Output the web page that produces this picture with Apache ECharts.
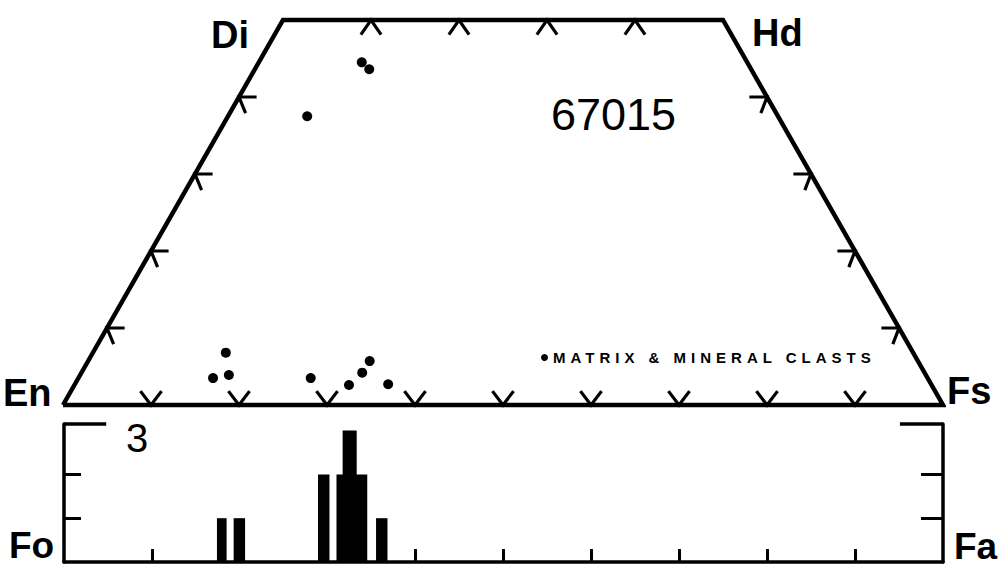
<!DOCTYPE html>
<html>
<head>
<meta charset="utf-8">
<script src="https://cdn.jsdelivr.net/npm/echarts@6/dist/echarts.min.js"></script>
<style>
  html, body { margin: 0; padding: 0; background: #fff; }
  #chart { width: 1001px; height: 566px; }
</style>
</head>
<body>
<div id="chart"></div>
<script>
// ---- Data (compositions in mol %) ----
// Quadrilateral corners: En, Di, Hd, Fs (closed)
const cornerWo = [0, 50, 50, 0, 0];
const cornerFs = [0, 0, 50, 100, 0];
// Pyroxene analyses (matrix & mineral clasts)
const pyxWo = [37.5, 44.5, 43.6, 6.8, 3.5, 3.9, 3.5, 2.6, 4.2, 5.7, 2.7];
const pyxFs = [9.0, 11.7, 13.0, 15.1, 15.3, 16.9, 26.4, 31.2, 31.9, 32.0, 35.6];
// Quadrilateral tick positions
const baseTicksFs = [10, 20, 30, 40, 50, 60, 70, 80, 90];   // En-Fs join (Wo = 0)
const topTicksFs = [10, 20, 30, 40];                        // Di-Hd join (Wo = 50)
const sideTicksWo = [10, 20, 30, 40];                       // En-Di and Hd-Fs sides
// Olivine histogram (Fa mol %): bin start, bin end, count
const olFaFrom = [17.4, 19.3, 28.9, 31.0, 31.7, 33.2, 35.5];
const olFaTo   = [18.5, 20.6, 30.2, 31.9, 33.3, 34.5, 36.8];
const olCount  = [1, 1, 2, 2, 3, 2, 1];
const histTicksFa = [10, 20, 30, 40, 50, 60, 70, 80, 90];
const histCountTicks = [1, 2];

// ---- Build ----
const HIST_TOP = 3.15;
const toX = (wo, fs) => fs + wo / 2;   // projected horizontal coordinate
const outline = cornerWo.map((w, i) => [toX(w, cornerFs[i]), w]);
const points = pyxWo.map((w, i) => [toX(w, pyxFs[i]), w]);
const ticks = [];
baseTicksFs.forEach(f => ticks.push([toX(0, f), 0, 0]));
topTicksFs.forEach(f => ticks.push([toX(50, f), 50, 1]));
sideTicksWo.forEach(w => ticks.push([toX(w, 0), w, 2]));
sideTicksWo.forEach(w => ticks.push([toX(w, 100 - w), w, 3]));
const bars = olFaFrom.map((f, i) => [f, olFaTo[i], olCount[i]]);

const BOLD = 'bold 38px "Liberation Sans", Arial, sans-serif';
function label(text, x, y, align, font) {
  return { type: 'text', silent: true, style: { text, x, y, align, verticalAlign: 'middle', font: font || BOLD, fill: '#000' } };
}

const chart = echarts.init(document.getElementById('chart'), null, { renderer: 'svg' });
chart.setOption({
  animation: false,
  backgroundColor: '#fff',
  grid: [
    { left: 63, right: 58, top: 20, bottom: 161 },
    { left: 64, right: 58, top: 424, bottom: 4 }
  ],
  xAxis: [
    { gridIndex: 0, type: 'value', min: 0, max: 100, show: false },
    { gridIndex: 1, type: 'value', min: 0, max: 100, interval: 10,
      axisLine: { show: true, lineStyle: { color: '#000', width: 3.5 } },
      axisTick: { show: true, inside: true, length: 13, customValues: histTicksFa, lineStyle: { color: '#000', width: 3 } },
      axisLabel: { show: false }, splitLine: { show: false } }
  ],
  yAxis: [
    { gridIndex: 0, type: 'value', min: 0, max: 50, show: false },
    { gridIndex: 1, type: 'value', min: 0, max: HIST_TOP, position: 'left',
      axisLine: { show: true, onZero: false, lineStyle: { color: '#000', width: 3.5 } },
      axisTick: { show: true, inside: true, length: 17, customValues: histCountTicks, lineStyle: { color: '#000', width: 3 } },
      axisLabel: { show: false }, splitLine: { show: false } },
    { gridIndex: 1, type: 'value', min: 0, max: HIST_TOP, position: 'right',
      axisLine: { show: true, onZero: false, lineStyle: { color: '#000', width: 3.5 } },
      axisTick: { show: true, inside: true, length: 22, customValues: histCountTicks, lineStyle: { color: '#000', width: 3 } },
      axisLabel: { show: false }, splitLine: { show: false } }
  ],
  legend: {
    left: 536, top: 345, itemWidth: 7, itemHeight: 7, icon: 'circle',
    data: [{ name: 'MATRIX & MINERAL CLASTS', itemStyle: { color: '#000', opacity: 1 } }],
    textStyle: { fontFamily: '"Liberation Sans", Arial, sans-serif', fontWeight: 'bold', fontSize: 15, color: '#000' },
    selectedMode: false
  },
  series: [
    { type: 'line', xAxisIndex: 0, yAxisIndex: 0, data: outline, symbol: 'none', silent: true,
      lineStyle: { color: '#000', width: 4.5, join: 'miter' }, clip: false },
    { type: 'custom', xAxisIndex: 0, yAxisIndex: 0, data: ticks, silent: true, clip: false,
      renderItem: function (params, api) {
        const x = api.value(0), w = api.value(1), k = api.value(2);
        let pts;
        if (k === 0) pts = [[x - 1.2, w + 1.8], [x, w], [x + 1.2, w + 1.8]];
        else if (k === 1) pts = [[x - 1.15, w - 1.9], [x, w], [x + 1.15, w - 1.9]];
        else if (k === 2) pts = [[x + 2.0, w], [x, w], [x + 0.75, w - 2.1]];
        else pts = [[x - 2.0, w], [x, w], [x - 0.7, w - 2.1]];
        return { type: 'polyline', shape: { points: pts.map(p => api.coord(p)) },
          style: { stroke: '#000', lineWidth: 3.2, fill: null } };
      } },
    { name: 'MATRIX & MINERAL CLASTS', type: 'scatter', xAxisIndex: 0, yAxisIndex: 0, data: points,
      symbol: 'circle', symbolSize: 10, itemStyle: { color: '#000', opacity: 1 }, silent: true },
    { type: 'custom', xAxisIndex: 1, yAxisIndex: 1, data: bars, silent: true,
      encode: { x: [0, 1], y: 2 },
      renderItem: function (params, api) {
        const p0 = api.coord([api.value(0), api.value(2)]);
        const p1 = api.coord([api.value(1), 0]);
        return { type: 'rect', shape: { x: p0[0], y: p0[1], width: p1[0] - p0[0], height: p1[1] - p0[1] },
          style: { fill: '#000' } };
      } },
    { type: 'line', xAxisIndex: 1, yAxisIndex: 1, data: [[0, HIST_TOP], [4.8, HIST_TOP]], symbol: 'none', silent: true,
      lineStyle: { color: '#000', width: 3.5 }, clip: false },
    { type: 'line', xAxisIndex: 1, yAxisIndex: 1, data: [[95.1, HIST_TOP], [100, HIST_TOP]], symbol: 'none', silent: true,
      lineStyle: { color: '#000', width: 3.5 }, clip: false }
  ],
  graphic: [
    label('Di', 249, 35, 'right'),
    label('Hd', 752, 33, 'left'),
    label('En', 3, 393, 'left'),
    label('Fs', 947, 391, 'left'),
    label('Fo', 9, 545, 'left', 'bold 37px "Liberation Sans", Arial, sans-serif'),
    label('Fa', 954, 546, 'left', 'bold 37px "Liberation Sans", Arial, sans-serif'),
    label('67015', 551, 114, 'left', 'normal 45px "Liberation Sans", Arial, sans-serif'),
    label('3', 126, 438, 'left', 'normal 40px "Liberation Sans", Arial, sans-serif')
  ]
});

function spaceLegend() {
  document.querySelectorAll('#chart svg text').forEach(t => {
    if (t.textContent.indexOf('MATRIX') >= 0) t.style.letterSpacing = '5px';
  });
}
chart.on('finished', spaceLegend);
spaceLegend();
</script>
</body>
</html>
